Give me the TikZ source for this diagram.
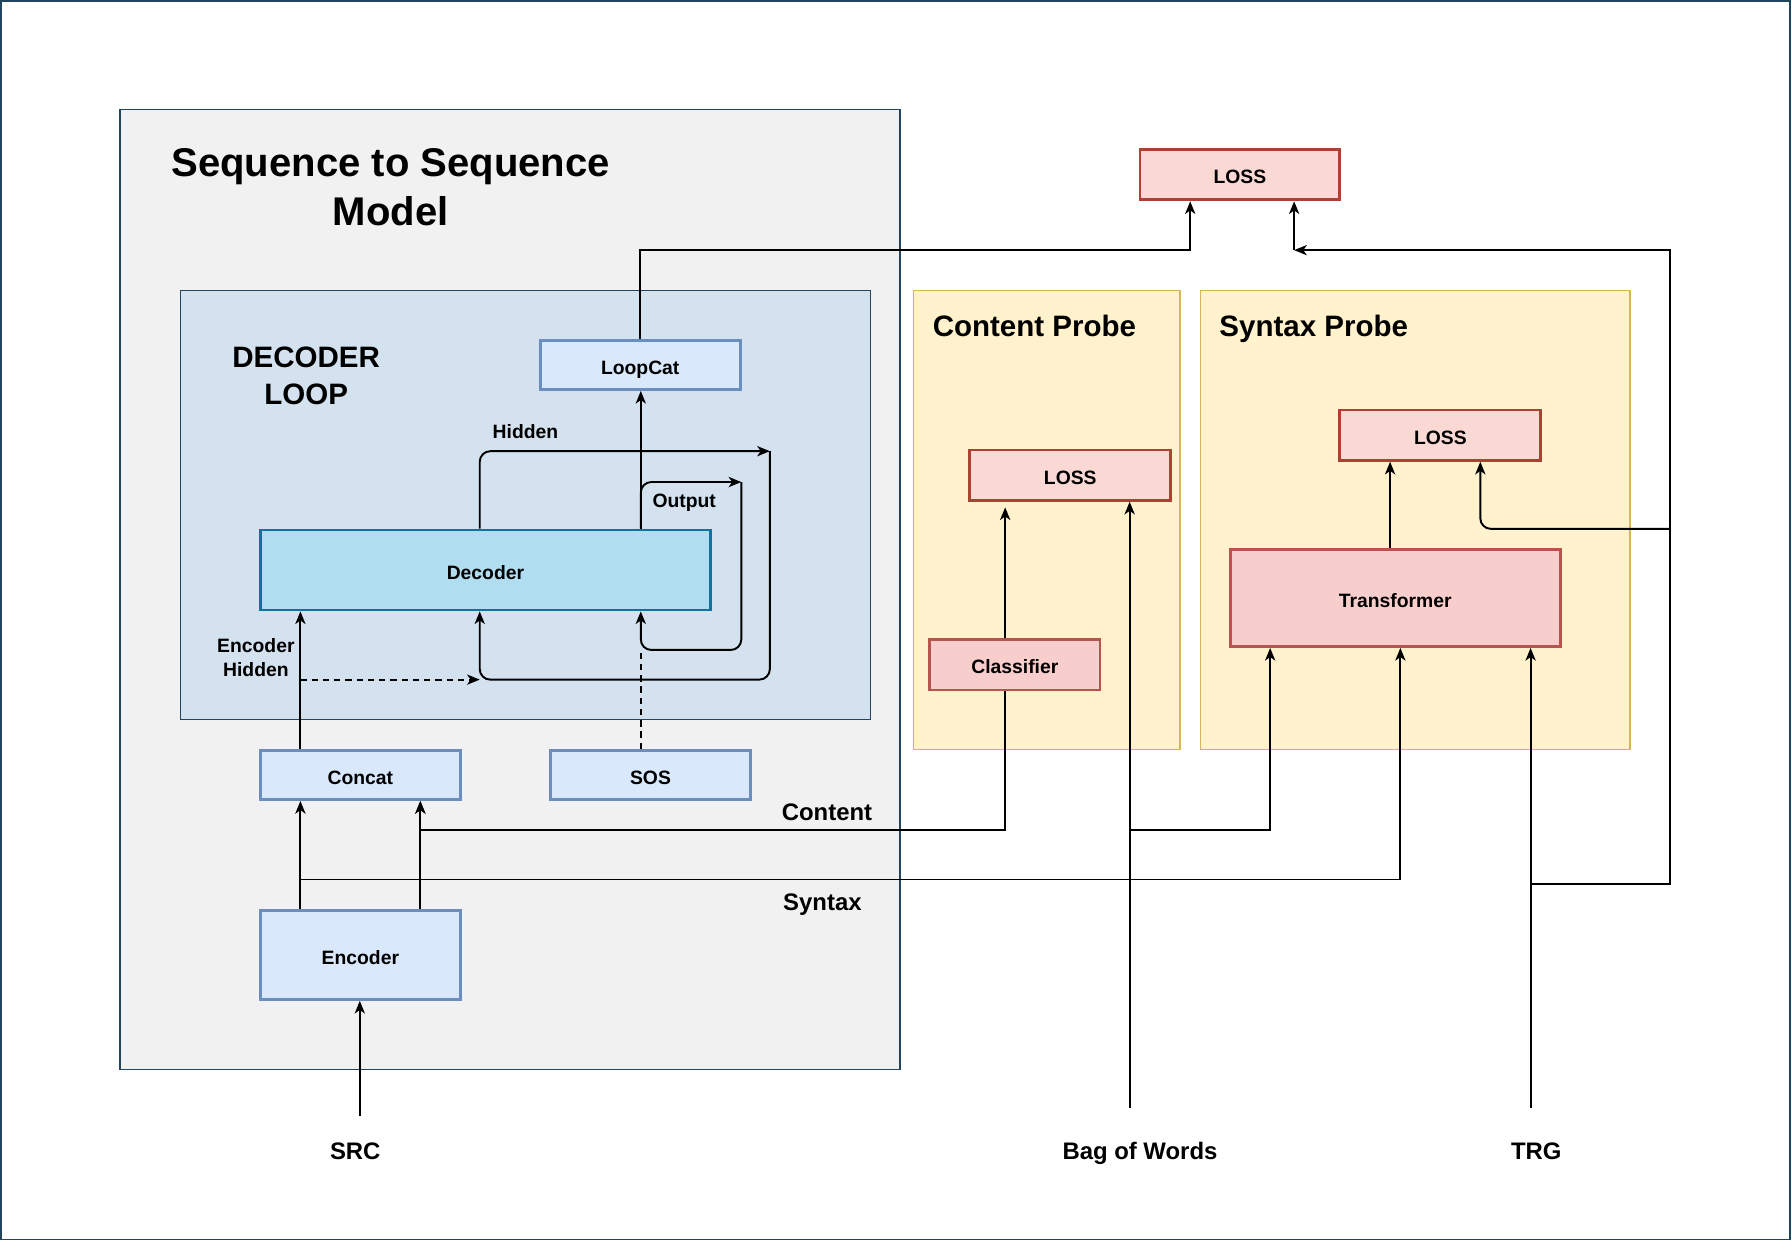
\documentclass[tikz,border=0pt]{standalone}
\usepackage{fontspec}
\setmainfont{Liberation Sans}
\usepackage{xcolor}
\usetikzlibrary{arrows.meta}

\definecolor{framecol}{HTML}{23445D}
\definecolor{s2sfill}{HTML}{F1F1F1}
\definecolor{loopfill}{HTML}{D4E2EF}
\definecolor{bluefill}{HTML}{DAE8FC}
\definecolor{blueline}{HTML}{6C8EBF}
\definecolor{decfill}{HTML}{B1DDF0}
\definecolor{decline}{HTML}{10739E}
\definecolor{redfill}{HTML}{F8CECC}
\definecolor{redline}{HTML}{B85450}
\definecolor{lossfill}{HTML}{FAD9D5}
\definecolor{lossline}{HTML}{AE4132}
\definecolor{probefill}{HTML}{FFF2CC}
\definecolor{probeline}{HTML}{D6B656}

\begin{document}
\begin{tikzpicture}[x=0.11422mm,y=-0.11422mm,
    >={Stealth[length=3.6pt,width=2.9pt,inset=1pt]},
    wire/.style={line width=0.55pt,black},
    arr/.style={wire,->},
    dashwire/.style={dash pattern=on 1.8pt off 1.4pt},
    frame/.style={draw=framecol,line width=0.35pt,inner sep=0pt},
    oneline/.style={text height=0.72em,text depth=0.2em},
    box/.style={line width=0.8pt,inner sep=0pt,oneline,
        font=\fontsize{5.5}{6.6}\selectfont\bfseries},
    bluebox/.style={box,draw=blueline,fill=bluefill},
    decbox/.style={box,draw=decline,fill=decfill},
    redbox/.style={box,draw=redline,fill=redfill},
    lossbox/.style={box,draw=lossline,fill=lossfill},
    probe/.style={draw=probeline,fill=probefill,line width=0.35pt,inner sep=0pt},
    lbl/.style={inner sep=0pt,font=\fontsize{5.5}{6.8}\selectfont\bfseries},
    biglbl/.style={inner sep=0pt,oneline,font=\fontsize{6.8}{8}\selectfont\bfseries},
    headlbl/.style={inner sep=0pt,font=\fontsize{8.4}{10.7}\selectfont\bfseries}]
    \def\px{0.11422mm}

    \useasboundingbox (0,0) rectangle (1568,1086);
    \draw[framecol,line width=0.45pt] (0.7,0.7) rectangle (1567.3,1085.3);

    % containers
    \node[frame,fill=s2sfill,minimum width=683*\px,minimum height=840*\px] (s2s) at (446.5,516) {};
    \node[frame,fill=loopfill,minimum width=604*\px,minimum height=376*\px] (decloop) at (460,442) {};
    \node[probe,minimum width=233*\px,minimum height=402*\px] (cprobe) at (916.5,455) {};
    \node[probe,minimum width=376*\px,minimum height=402*\px] (sprobe) at (1239,455) {};

    % headings
    \node[inner sep=0pt,align=center,font=\fontsize{11.4}{14}\selectfont\bfseries] (title) at (342,164)
        {Sequence to Sequence\\Model};
    \node[headlbl,align=center] (looptitle) at (268,329) {DECODER\\LOOP};
    \node[headlbl,oneline,anchor=west] (cprobetitle) at (816,287) {Content Probe};
    \node[headlbl,oneline,anchor=west] (sprobetitle) at (1067,287) {Syntax Probe};

    % blocks
    \node[bluebox,minimum width=175*\px,minimum height=43*\px] (loopcat) at (560.5,319.5) {LoopCat};
    \node[decbox,minimum width=394*\px,minimum height=70*\px] (decoder) at (425,499) {Decoder};
    \node[bluebox,minimum width=175*\px,minimum height=43*\px] (concat) at (315.5,678.5) {Concat};
    \node[bluebox,minimum width=175*\px,minimum height=43*\px] (sos) at (569.5,678.5) {SOS};
    \node[bluebox,minimum width=175*\px,minimum height=78*\px] (encoder) at (315.5,836) {Encoder};
    \node[lossbox,minimum width=175*\px,minimum height=44*\px] (losstop) at (1085.5,153) {LOSS};
    \node[lossbox,minimum width=176*\px,minimum height=44*\px] (contloss) at (937,416) {LOSS};
    \node[redbox,minimum width=149*\px,minimum height=44*\px] (classifier) at (888.5,582) {Classifier};
    \node[lossbox,minimum width=176*\px,minimum height=44*\px] (synloss) at (1261,381) {LOSS};
    \node[redbox,minimum width=289*\px,minimum height=85*\px] (transformer) at (1221.5,523.5) {Transformer};

    % labels
    \node[lbl,oneline] (hiddenlbl) at (460,375.5) {Hidden};
    \node[lbl,oneline] (outputlbl) at (599,436.5) {Output};
    \node[lbl,align=center] (enchidlbl) at (224,576) {Encoder\\Hidden};
    \node[biglbl] (contentlbl) at (724,710.5) {Content};
    \node[biglbl] (syntaxlbl) at (720,789.5) {Syntax};
    \node[biglbl] (srclbl) at (311,1007.5) {SRC};
    \node[biglbl] (bowlbl) at (998,1007.5) {Bag of Words};
    \node[biglbl] (trglbl) at (1345,1007.5) {TRG};

    % free ends and taps
    \coordinate (hidtip) at (674,395);
    \coordinate (hidin) at (420,595);
    \coordinate (outtip) at (649,422);
    \coordinate (outin) at (561,569);
    \coordinate (ehid) at (263,595);
    \coordinate (conttap) at (368,727);
    \coordinate (syntap) at (263,770);
    \coordinate (catbus) at (1042,219);
    \coordinate (trgbus) at (1133,219);
    \coordinate (rightbus) at (1462,463);
    \coordinate (srcin) at (315,977);
    \coordinate (bowin) at (989,970);
    \coordinate (bowtap) at (989,727);
    \coordinate (trgin) at (1340,970);
    \coordinate (trgtap) at (1340,774);

    % decoder loop
    \draw[arr] (decoder.north -| outin) -- (loopcat.south -| outin);
    \draw[arr,rounded corners=3pt] (decoder.north -| hidin) |- (hidtip);
    \draw[arr,rounded corners=3pt] (hidtip) |- (hidin) -- (decoder.south -| hidin);
    \draw[arr,rounded corners=3pt] (decoder.north -| outin) |- (outtip);
    \draw[arr,rounded corners=3pt] (outtip) |- (outin) -- (decoder.south -| outin);
    \draw[wire,dashwire] (sos.north -| outin) -- (outin);
    \draw[arr] (concat.north -| ehid) -- (decoder.south -| ehid);
    \draw[arr,dashwire] (ehid) -- (hidin);

    % encoder side
    \draw[arr] (srcin) -- (encoder.south -| srcin);
    \draw[arr] (encoder.north -| syntap) -- (concat.south -| syntap);
    \draw[arr] (encoder.north -| conttap) -- (concat.south -| conttap);
    \draw[arr] (880,0 |- classifier.south) |- (conttap) -- (concat.south -| conttap);
    \draw[arr] (syntap) -| (1226,0 |- transformer.south);

    % probes
    \draw[arr,shorten >=1.6pt] (880,0 |- classifier.north) -- (880,0 |- contloss.south);
    \draw[arr] (bowin) -- (contloss.south -| bowin);
    \draw[arr] (bowtap) -| (1112,0 |- transformer.south);
    \draw[arr] (transformer.north -| 1217,0) -- (synloss.south -| 1217,0);
    \draw[arr] (trgin) -- (transformer.south -| trgin);
    \draw[arr] (trgtap) -| (rightbus) |- (trgbus);
    \draw[arr,rounded corners=3pt] (rightbus) -| (1296,0 |- synloss.south);

    % to the top loss
    \draw[arr] (loopcat.north) |- (catbus) -- (losstop.south -| catbus);
    \draw[arr] (trgbus) -- (losstop.south -| trgbus);
\end{tikzpicture}
\end{document}
